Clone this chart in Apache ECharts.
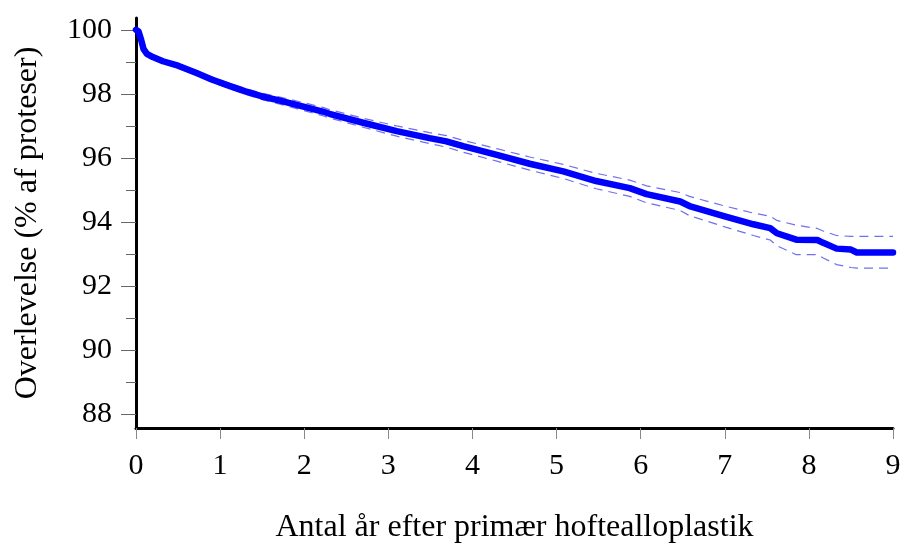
<!DOCTYPE html>
<html>
<head>
<meta charset="utf-8">
<script src="https://cdn.jsdelivr.net/npm/echarts@6/dist/echarts.min.js"></script>
<style>html,body{margin:0;padding:0;background:#fff}#c{width:905px;height:549px}</style>
</head>
<body>
<div id="c"></div>
<script>
const years = [0, 0.03, 0.06, 0.09, 0.13, 0.2, 0.32, 0.5, 0.72, 0.9, 1.11, 1.3, 1.5, 1.7, 1.91, 2.22, 2.3, 2.7, 3.1, 3.49, 3.69, 3.89, 4.29, 4.68, 5.08, 5.47, 5.87, 6.07, 6.47, 6.58, 7.0, 7.34, 7.54, 7.62, 7.85, 8.1, 8.17, 8.33, 8.5, 8.57, 9.0];
const survival = [100, 99.95, 99.7, 99.4, 99.25, 99.15, 99.02, 98.88, 98.65, 98.45, 98.25, 98.08, 97.92, 97.8, 97.66, 97.45, 97.38, 97.1, 96.84, 96.62, 96.52, 96.37, 96.1, 95.82, 95.58, 95.28, 95.06, 94.87, 94.64, 94.5, 94.18, 93.93, 93.81, 93.65, 93.45, 93.44, 93.35, 93.17, 93.14, 93.05, 93.05];
const upperCI = [100, 100, 99.75, 99.45, 99.29, 99.2, 99.07, 98.94, 98.72, 98.53, 98.33, 98.17, 98.02, 97.91, 97.78, 97.58, 97.51, 97.24, 97.0, 96.79, 96.7, 96.55, 96.29, 96.03, 95.8, 95.52, 95.31, 95.13, 94.92, 94.8, 94.5, 94.28, 94.18, 94.05, 93.9, 93.8, 93.72, 93.58, 93.55, 93.55, 93.55];
const lowerCI = [100, 99.9, 99.65, 99.35, 99.21, 99.1, 98.97, 98.82, 98.58, 98.37, 98.17, 97.99, 97.82, 97.69, 97.54, 97.32, 97.25, 96.96, 96.68, 96.45, 96.34, 96.18, 95.9, 95.62, 95.36, 95.04, 94.8, 94.6, 94.36, 94.2, 93.85, 93.58, 93.44, 93.26, 92.98, 92.98, 92.88, 92.67, 92.58, 92.56, 92.56];
const yMajorTicks = [88, 90, 92, 94, 96, 98, 100];
const yMinorTicks = [89, 91, 93, 95, 97, 99];
const xTicks = [0, 1, 2, 3, 4, 5, 6, 7, 8, 9];
const xTitle = 'Antal år efter primær hoftealloplastik';
const yTitle = 'Overlevelse (% af proteser)';

const pairs = (xs, ys) => xs.map((x, i) => [x, ys[i]]);
const font = 'Liberation Serif';
const chart = echarts.init(document.getElementById('c'), null, {renderer: 'canvas'});
chart.setOption({
  animation: false,
  backgroundColor: '#fff',
  grid: {left: 136, right: 12, top: 18, bottom: 121, containLabel: false},
  xAxis: {
    type: 'value', min: 0, max: 9, interval: 1,
    name: xTitle, nameLocation: 'middle', nameGap: 84,
    nameTextStyle: {fontFamily: font, fontSize: 32, color: '#000'},
    axisLine: {show: true, onZero: false, lineStyle: {color: '#000', width: 3}},
    axisTick: {show: true, length: 11, lineStyle: {color: '#888', width: 1}, customValues: xTicks},
    axisLabel: {fontFamily: font, fontSize: 30, color: '#000', margin: 23, customValues: xTicks},
    splitLine: {show: false}
  },
  yAxis: [{
    type: 'value', min: 87.57, max: 100.37,
    name: yTitle, nameLocation: 'middle', nameGap: 92,
    nameTextStyle: {fontFamily: font, fontSize: 32, color: '#000'},
    axisLine: {show: true, onZero: false, lineStyle: {color: '#000', width: 3}},
    axisTick: {show: true, length: 15, lineStyle: {color: '#666', width: 1}, customValues: yMajorTicks},
    axisLabel: {fontFamily: font, fontSize: 30, color: '#000', margin: 24, customValues: yMajorTicks},
    splitLine: {show: false}
  }, {
    type: 'value', min: 87.57, max: 100.37, position: 'left',
    axisLine: {show: false},
    axisTick: {show: true, length: 10, lineStyle: {color: '#666', width: 1}, customValues: yMinorTicks},
    axisLabel: {show: false},
    splitLine: {show: false}
  }],
  series: [
    {type: 'line', data: pairs(years, upperCI), showSymbol: false, lineStyle: {color: '#7070ee', width: 1.2, type: [9, 6]}, z: 2},
    {type: 'line', data: pairs(years, lowerCI), showSymbol: false, lineStyle: {color: '#7070ee', width: 1.2, type: [9, 6]}, z: 2},
    {type: 'line', data: pairs(years, survival), showSymbol: false, lineStyle: {color: '#0000ff', width: 6.5, cap: 'round', join: 'round'}, z: 3}
  ]
});
</script>
</body>
</html>
